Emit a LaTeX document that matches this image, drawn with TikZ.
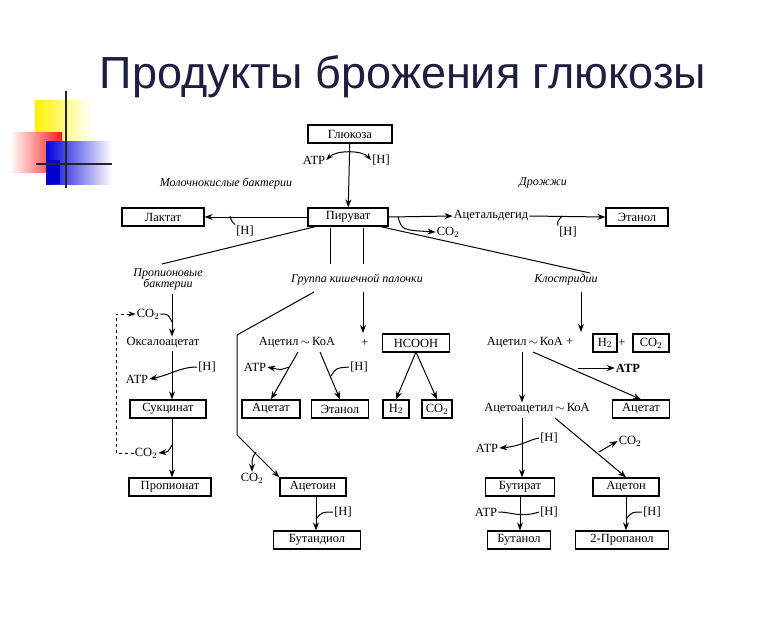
\documentclass[tikz,border=0pt]{standalone}
\usepackage{fontspec}
\setmainfont{Liberation Serif}
\newfontfamily\titlefont{Liberation Sans}
\usetikzlibrary{arrows.meta}
\definecolor{titlec}{HTML}{1E1E40}
\tikzset{
  box/.style={draw,line width=1.3pt,inner xsep=2pt,inner ysep=1pt,minimum height=18pt,font=\fontsize{12.5}{14}\selectfont},
  lbl/.style={inner sep=1pt,font=\fontsize{12.5}{14}\selectfont},
  grp/.style={inner sep=1pt,font=\fontsize{12}{12}\selectfont\itshape,align=center},
  arr/.style={line width=1pt,-{Stealth[length=8pt,width=6pt]}},
  ln/.style={line width=1pt},
}
\newcommand{\tl}{\,$\sim$\,}
\begin{document}
\begin{tikzpicture}[x=1pt,y=-1pt]
\useasboundingbox (0,0) rectangle (780,630);
% decoration
\shade[left color=yellow!90!orange,right color=white] (35,100) rectangle (92,142);
\shade[left color=white,right color=red!90] (10,132) rectangle (62,172);
\shade[left color=blue!85!black,right color=white] (46,141) rectangle (112,184);
\fill[blue!80!black] (46,160) rectangle (60,184);
\draw[line width=2.5pt,black!85] (66,91) -- (66,188);
\draw[line width=2.5pt,black!85] (36,164) -- (112,164);
% title
\node[font=\titlefont\fontsize{45}{47}\selectfont,text=titlec] (title) at (403,77) {Продукты брожения глюкозы};
% top
\node[box,minimum width=84pt] (glc) at (350,134) {Глюкоза};
\node[lbl] (atp0) at (314,160) {ATP};
\node[lbl] (h0) at (381,160) {[H]};
\node[grp] (lacb) at (226,183) {Молочнокислые бактерии};
\node[grp] (yeast) at (543,183) {Дрожжи};
\node[box,minimum width=80pt] (pyr) at (348,217) {Пируват};
\node[box,minimum width=82pt] (lac) at (163,217) {Лактат};
\node[lbl] (hL) at (245,231) {[H]};
\node[lbl] (acald) at (491,216) {Ацетальдегид};
\node[lbl] (co2y) at (448,232) {CO$_2$};
\node[box,minimum width=62pt] (eth1) at (637,217) {Этанол};
\node[lbl] (hY) at (568,232) {[H]};
\draw[arr] (glc) -- (pyr);
\draw[ln,{Stealth[length=7pt,width=5pt]}-{Stealth[length=7pt,width=5pt]}] (atp0.east) .. controls (336,150) and (362,150) .. (h0.west);
\draw[arr] (pyr) -- (lac);
\coordinate (tL) at (230,216);
\draw[ln] (hL.north west) .. controls (232,222) .. (tL);
\draw[arr] (pyr.east) -- (acald.west);
\draw[arr] (398,217) .. controls (402,230) .. (co2y.west);
\draw[arr] (acald.east) -- (eth1.west);
\coordinate (tY) at (562,216);
\draw[ln] (hY.north west) .. controls (557,222) .. (tY);
% branches
\node[grp] (prop) at (168,279) {Пропионовые\\[-1pt]бактерии};
\node[grp] (ecoli) at (357,280) {Группа кишечной палочки};
\node[grp] (clos) at (566,280) {Клостридии};
\draw[ln] (pyr.south west) ++(8,0) coordinate (p1) -- (162,264);
\draw[ln] (pyr.south east) ++(-8,0) coordinate (p2) -- (590,273);
\draw[ln] (330,228) -- (330,264);
\draw[ln] (363,228) -- (363,264);
% left column
\node[lbl] (oxa) at (163,343) {Оксалоацетат};
\node[lbl] (co2a) at (148,314) {CO$_2$};
\node[lbl] (hA) at (207,367) {[H]};
\node[lbl] (atpA) at (137,379) {ATP};
\node[box,minimum width=76pt] (suc) at (168,409) {Сукцинат};
\node[lbl] (co2b) at (146,453) {CO$_2$};
\node[box,minimum width=82pt] (prpn) at (170,487) {Пропионат};
\draw[arr] (172,294) -- (oxa.north -| 172,0);
\draw[ln] (co2a.east) .. controls (168,314) .. (172,322);
\draw[arr] (172,351) -- (suc.north -| 172,0);
\draw[arr] (hA.west) .. controls (180,367) and (170,375) .. (atpA.east);
\draw[arr] (172,418) -- (prpn.north -| 172,0);
\draw[arr] (172,445) .. controls (168,452) .. (co2b.east);
\draw[ln,dashed,-{Stealth[length=7pt,width=5pt]}] (co2b.west) -- (116,453) -- (116,314) -- (co2a.west);
% middle
\node[lbl] (acoa) at (297,343) {Ацетил\tl КоА};
\node[lbl] (plus1) at (365,343) {+};
\node[box,minimum width=67pt] (hcooh) at (416,343) {HCOOH};
\node[lbl] (atpB) at (255,367) {ATP};
\node[lbl] (hB) at (359,367) {[H]};
\node[box,minimum width=58pt] (acet) at (271,409) {Ацетат};
\node[box,minimum width=57pt] (eth2) at (340,409) {Этанол};
\node[box,minimum width=26pt] (h2m) at (396,409) {H$_2$};
\node[box,minimum width=30pt] (co2m) at (437,409) {CO$_2$};
\draw[arr] (363,292) -- (363,333);
\draw[arr] (298,352) -- (acet.north);
\draw[arr] (289,367) .. controls (281,370) .. (atpB.east);
\draw[arr] (320,352) -- (eth2.north);
\draw[ln] (hB.west) .. controls (336,368) .. (331,376);
\draw[arr] (416,352) -- (h2m.north);
\draw[arr] (416,352) -- (co2m.north);
\node[lbl] (co2c) at (252,478) {CO$_2$};
\node[box,minimum width=66pt] (acetoin) at (313,487) {Ацетоин};
\node[box,minimum width=87pt] (btd) at (317,540) {Бутандиол};
\node[lbl] (hC) at (343,512) {[H]};
\coordinate (d1) at (314,292);
\coordinate (d2) at (237,335);
\coordinate (d3) at (237,435);
\draw[arr] (d1) -- (d2) -- (d3) -- (acetoin.north west);
\draw[arr] (256,452) .. controls (252,458) .. (co2c.north);
\draw[arr] (acetoin.south -| 316,0) -- (btd.north -| 316,0);
\draw[ln] (hC.west) .. controls (322,512) .. (316,519);
% right
\node[lbl] (acoa2) at (530,343) {Ацетил\tl КоА +};
\node[box,minimum width=24pt] (h2r) at (605,343) {H$_2$};
\node[lbl] (plus2) at (622,343) {+};
\node[box,minimum width=36pt] (co2r) at (651,343) {CO$_2$};
\node[lbl,font=\fontsize{12.5}{14}\selectfont\bfseries] (atpR) at (628,368) {ATP};
\node[lbl] (aca) at (537,409) {Ацетоацетил\tl КоА};
\node[box,minimum width=57pt] (acet2) at (641,409) {Ацетат};
\draw[arr] (581,292) -- (581,332);
\draw[arr] (522,352) -- (aca.north -| 522,0);
\draw[arr] (533,352) -- (acet2.north);
\draw[arr] (578,368) -- (atpR.west);
\node[lbl] (hD) at (549,438) {[H]};
\node[lbl] (atpD) at (487,448) {ATP};
\node[lbl] (co2d) at (630,441) {CO$_2$};
\node[box,minimum width=69pt] (but) at (520,487) {Бутират};
\node[box,minimum width=66pt] (acetone) at (626,487) {Ацетон};
\draw[arr] (522,418) -- (but.north -| 522,0);
\draw[arr] (hD.west) .. controls (528,440) and (522,446) .. (atpD.east);
\draw[arr] (555,418) -- (acetone.north);
\draw[arr] (599,452) -- (co2d.west);
\node[lbl] (hE) at (549,512) {[H]};
\node[lbl] (atpE) at (486,512) {ATP};
\node[lbl] (hF) at (652,512) {[H]};
\node[box,minimum width=63pt] (butol) at (519,540) {Бутанол};
\node[box,minimum width=93pt] (prol) at (622,540) {2-Пропанол};
\draw[arr] (but.south -| 520,0) -- (butol.north -| 520,0);
\draw[ln] (atpE.east) .. controls (512,512) and (520,518) .. (hE.west);
\draw[arr] (acetone.south -| 626,0) -- (prol.north -| 626,0);
\draw[ln] (hF.west) .. controls (632,512) .. (626,519);
\end{tikzpicture}
\end{document}
